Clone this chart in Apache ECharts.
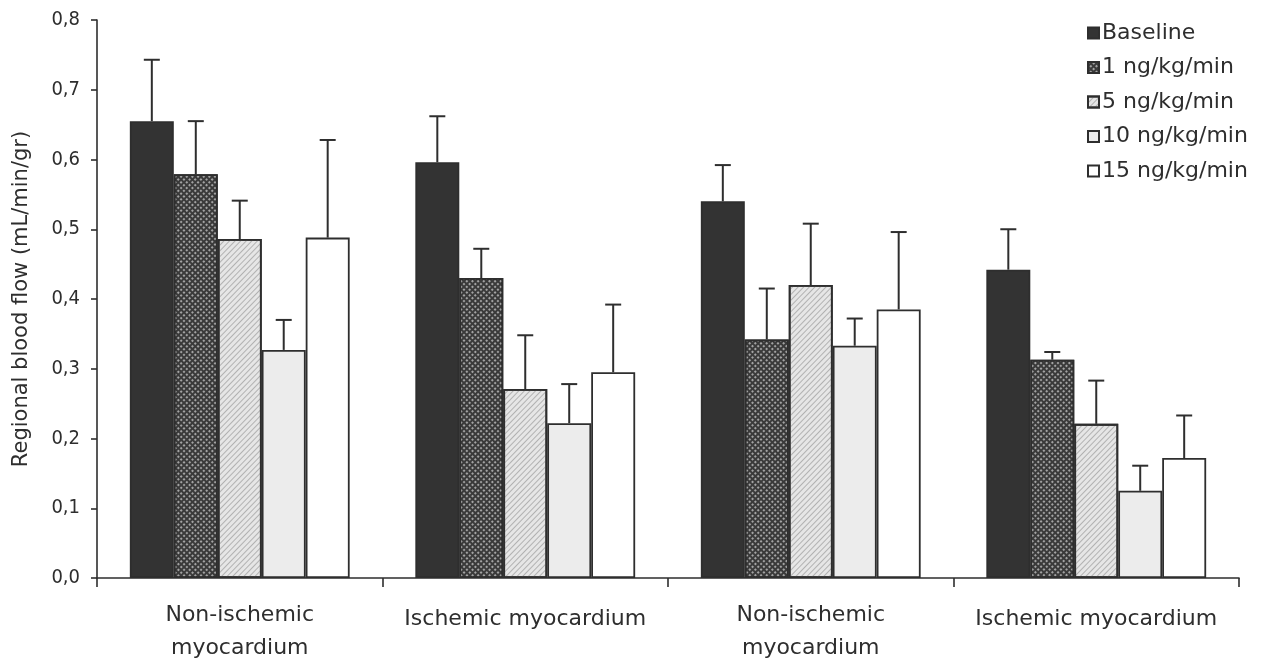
<!DOCTYPE html>
<html>
<head>
<meta charset="utf-8">
<script src="https://cdn.jsdelivr.net/npm/echarts@6/dist/echarts.min.js"></script>
<style>
  html, body { margin: 0; padding: 0; background: #fff; }
  #chart { width: 1272px; height: 670px; }
</style>
</head>
<body>
<div id="chart"></div>
<script>
// Regional blood flow per tissue region and infusion dose (mean and SD)
const categories = ['Non-ischemic\nmyocardium', 'Ischemic myocardium', 'Non-ischemic\nmyocardium', 'Ischemic myocardium'];
const seriesNames = ['Baseline', '1 ng/kg/min', '5 ng/kg/min', '10 ng/kg/min', '15 ng/kg/min'];

const baseline    = [0.655, 0.596, 0.540, 0.442];
const baselineErr = [0.088, 0.066, 0.052, 0.058];
const dose1       = [0.579, 0.430, 0.342, 0.313];
const dose1Err    = [0.076, 0.042, 0.073, 0.011];
const dose5       = [0.486, 0.271, 0.420, 0.221];
const dose5Err    = [0.055, 0.077, 0.088, 0.062];
const dose10      = [0.327, 0.222, 0.333, 0.125];
const dose10Err   = [0.043, 0.056, 0.039, 0.036];
const dose15      = [0.488, 0.295, 0.385, 0.172];
const dose15Err   = [0.140, 0.097, 0.111, 0.061];

const yTicks = ['0,0', '0,1', '0,2', '0,3', '0,4', '0,5', '0,6', '0,7', '0,8'];

const means = [baseline, dose1, dose5, dose10, dose15];
const errs = [baselineErr, dose1Err, dose5Err, dose10Err, dose15Err];

const FONT = '"DejaVu Sans", sans-serif';
const FONT_NARROW = '"DejaVu Sans Condensed", "DejaVu Sans", sans-serif';
const INK = '#2e2e2e';
const GAP = 0.23; // barCategoryGap as a fraction

const fills = [
  { color: '#333333', decal: null },
  { color: '#3a3a3a', decal: { symbol: 'circle', symbolSize: 0.9, color: 'rgba(230,230,230,0.9)', dashArrayX: [2, 2], dashArrayY: [2, 2], rotation: 0.785 } },
  { color: '#e6e6e6', decal: { symbol: 'rect', symbolSize: 1, color: 'rgba(125,125,125,0.5)', dashArrayX: [[1, 0]], dashArrayY: [1, 3], rotation: -0.8 } },
  { color: '#ececec', decal: null },
  { color: '#ffffff', decal: null }
];

const barSeries = seriesNames.map((name, i) => {
  const style = { color: fills[i].color, borderColor: INK, borderWidth: 1.8 };
  if (fills[i].decal) style.decal = fills[i].decal;
  return {
    name: name,
    type: 'bar',
    barGap: '0%',
    barCategoryGap: (GAP * 100) + '%',
    data: means[i],
    itemStyle: style,
    z: 2
  };
});

const errSeries = seriesNames.map((name, i) => ({
  name: name + ' SD',
  type: 'custom',
  z: 3,
  silent: true,
  data: means[i].map((v, k) => [k, v, errs[i][k]]),
  renderItem: function (params, api) {
    const cat = api.value(0);
    const mean = api.value(1);
    const sd = api.value(2);
    const band = api.size([1, 0])[0];
    const bw = band * (1 - GAP) / seriesNames.length;
    const base = api.coord([cat, mean]);
    const top = api.coord([cat, mean + sd]);
    const x = base[0] + (i - (seriesNames.length - 1) / 2) * bw;
    const cap = 8;
    const st = { stroke: INK, lineWidth: 2 };
    return {
      type: 'group',
      children: [
        { type: 'line', shape: { x1: x, y1: base[1], x2: x, y2: top[1] }, style: st },
        { type: 'line', shape: { x1: x - cap, y1: top[1], x2: x + cap, y2: top[1] }, style: st }
      ]
    };
  }
}));

const chart = echarts.init(document.getElementById('chart'), null, { renderer: 'canvas' });
chart.setOption({
  animation: false,
  backgroundColor: '#ffffff',
  textStyle: { fontFamily: FONT, color: INK },
  grid: { left: 97, right: 33, top: 20, bottom: 92, containLabel: false },
  legend: {
    data: seriesNames,
    orient: 'vertical',
    left: 1087,
    top: 22,
    padding: 0,
    itemWidth: 11,
    itemHeight: 11,
    itemGap: 12.5,
    icon: 'rect',
    selectedMode: false,
    textStyle: { fontFamily: FONT, fontSize: 22, color: INK, lineHeight: 22, padding: [0, 0, 0, -2] }
  },
  xAxis: {
    type: 'category',
    data: categories,
    axisLine: { lineStyle: { color: INK, width: 1.6 } },
    axisTick: { show: true, interval: 0, length: 9, lineStyle: { color: INK, width: 1.6 } },
    axisLabel: {
      interval: 0,
      fontFamily: FONT, fontSize: 22, color: INK, margin: 21, lineHeight: 33,
      formatter: function (v) { return v.indexOf('\n') < 0 ? '{one|' + v + '}' : v; },
      rich: { one: { fontFamily: FONT, fontSize: 22, color: INK, lineHeight: 33, padding: [7, 0, 0, 0] } }
    },
    splitLine: { show: false }
  },
  yAxis: {
    type: 'value',
    min: 0,
    max: 0.8,
    interval: 0.1,
    name: 'Regional blood flow (mL/min/gr)',
    nameLocation: 'middle',
    nameGap: 65,
    nameTextStyle: { fontFamily: FONT, fontSize: 21, color: INK },
    axisLine: { show: true, lineStyle: { color: INK, width: 1.6 } },
    axisTick: { show: true, length: 6, lineStyle: { color: INK, width: 1.6 } },
    axisLabel: {
      fontFamily: FONT_NARROW, fontSize: 20, color: INK, margin: 17,
      formatter: function (v) { return yTicks[Math.round(v * 10)]; }
    },
    splitLine: { show: false }
  },
  series: barSeries.concat(errSeries)
});
</script>
</body>
</html>
